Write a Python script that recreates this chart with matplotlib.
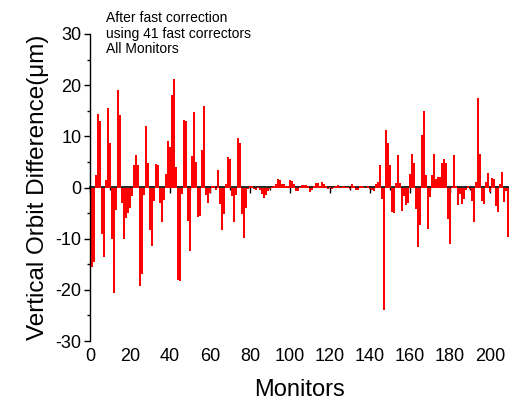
import numpy as np
import matplotlib
matplotlib.use("Agg")
import matplotlib.pyplot as plt
from matplotlib.ticker import MultipleLocator, NullFormatter

plt.rcParams['font.family'] = ['Liberation Sans', 'DejaVu Sans']
plt.rcParams['axes.unicode_minus'] = False

# --- data (orbit difference per monitor, um) ---
diff_0_33 = [-15.6, -14.5, 2.5, 14.3, 13, -9, -13.5, 1.5, 15.5, 8.6,
             -10, -20.6, -4.4, 19.1, 14.2, -3, -10, -6, -4.9, -4.1,
             -1.6, 4.4, 6.3, 4.3, -19.2, -17, -1.5, 12, 4.8, -8.3,
             -11.4, -2.7, 4.6, 4.4]
diff_34_68 = [-3, -6.7, -2.5, 2.7, 9, 8, 18, 21.2, 4, -18,
              -18.2, -1.2, 13.2, 13, -6.6, -12.5, 6.2, 14.8, 5, -5.8,
              -5.6, 7.3, 15.9, -1.4, -3.1, -1.1, 0.3, 0.3, -0.5, 3.5,
              -3.3, -8.4, -5.2, 0.6, 6]
diff_69_102 = [5.5, -1.7, -6.8, -1.4, 9.7, 8.7, -5.1, -9.8, -4, -0.3,
               0.2, 0.2, -0.2, -0.5, 0.1, -0.4, -1.2, -2.1, -1.4, -0.7,
               -0.3, 0.1, 0.3, 0.7, 1.75, 1.4, 0.7, 0.65, 0.3, 0.3,
               1.4, 1.2, 0.7, -0.65]
diff_103_138 = [-0.7, 0.1, 0.4, 0.4, 0.5, 0.3, -0.85, -0.5, 0.2, 0.9,
                0.8, 0.25, 1.0, 0.7, 0.3, -0.2, 0.1, -0.25, 0.1, 0.25,
                0.4, 0.1, 0.05, 0.2, 0.1, 0.1, -0.2, 0.6, 0.25, -0.4,
                -0.45, 0.3, 0.25, 0.1, -0.1, 0.2]
diff_139_173 = [-0.3, -0.5, -0.7, 0.6, 1.1, 4.4, -2.3, -24, 11.2, 8.7,
                4.3, -4.8, -5, 0.8, 6.4, 0.8, -4.6, -1.6, -3.4, -3.1,
                2.7, 6.6, 4.7, -4.2, -11.6, -7.3, 10.3, 14.9, 2.4, -8.1,
                -1.8, 2.5, 6.5, 1.6, 2.1]
diff_174_208 = [2.0, 4.8, 5.5, 4.7, -6.2, -11.1, 0.1, 6.3, 0.3, -3.4,
                -1.2, -3.3, -2.3, -0.5, 0.3, -0.3, -2.6, -6.8, 1.0, 17.5,
                6.6, -2.7, -3.3, 1.0, 2.9, -0.8, 1.9, 1.6, -3.6, -4.7,
                0.6, 3.1, -2.9, -0.7, -9.6]

orbit_diff = np.array(diff_0_33 + diff_34_68 + diff_69_102 + diff_103_138
                      + diff_139_173 + diff_174_208)
monitors = np.arange(len(orbit_diff)) + 1

note = "After fast correction\nusing 41 fast correctors\nAll Monitors"

# --- figure ---
fig = plt.figure(figsize=(5.09, 4.01), dpi=100)
ax = fig.add_axes([90 / 509, 60 / 401, 420 / 509, 307 / 401])

ax.bar(monitors, orbit_diff, width=0.95, color='#ff0000', linewidth=0)

ax.set_xlim(0, 210)
ax.set_ylim(-30, 30)

# only the left spine; x labels at the bottom, x ticks on the zero line
for s in ['top', 'right', 'bottom']:
    ax.spines[s].set_visible(False)
ax.spines['left'].set_linewidth(1.0)

ax.yaxis.set_major_locator(MultipleLocator(10))
ax.yaxis.set_minor_locator(MultipleLocator(5))
ax.tick_params(axis='y', which='major', direction='out', length=4, width=1,
               labelsize=13, pad=2)
ax.tick_params(axis='y', which='minor', direction='out', length=2.5, width=1)

ax.xaxis.set_major_locator(MultipleLocator(20))
ax.tick_params(axis='x', which='both', length=0, labelsize=13, pad=5)

# zero line carrying the x ticks (pointing down)
zero_axis = ax.secondary_xaxis(0.5)
for s in zero_axis.spines.values():
    s.set_linewidth(1.2)
zero_axis.xaxis.set_major_locator(MultipleLocator(20))
zero_axis.xaxis.set_minor_locator(MultipleLocator(10))
zero_axis.xaxis.set_major_formatter(NullFormatter())
zero_axis.tick_params(which='major', direction='in', length=4, width=1,
                      labeltop=False, labelbottom=False)
zero_axis.tick_params(which='minor', direction='in', length=2.5, width=1)

ax.set_xlabel("Monitors", fontsize=17, labelpad=10)
ax.set_ylabel("Vertical Orbit Difference(μm)", fontsize=17.5, labelpad=5)

fig.text(106 / 509, 1 - 11 / 401, note, fontsize=10, va='top', ha='left',
         linespacing=1.15)

fig.savefig("out.png", dpi=100)
